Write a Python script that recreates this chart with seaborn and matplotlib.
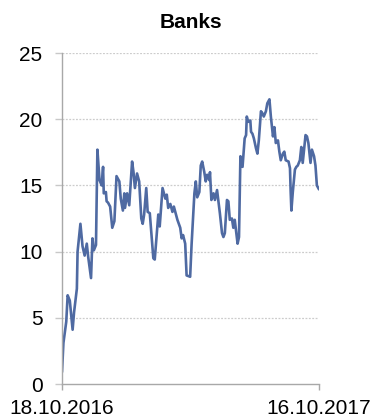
import numpy as np
import pandas as pd
import matplotlib
matplotlib.use("Agg")
import matplotlib.pyplot as plt
import matplotlib.dates as mdates
import seaborn as sns

title = "Banks"
start_date = "2016-10-18"
end_date = "2017-10-16"
day_offsets = [0, 2, 6, 8, 11, 15, 17, 21, 22, 26, 29, 32, 35, 37, 41, 43, 45, 48, 50, 53,
               56, 58, 59, 62, 63, 65, 68, 71, 74, 77, 81, 83, 86, 88, 89, 92, 95, 99, 101, 103,
               106, 109, 112, 114, 116, 119, 121, 124, 127, 129, 131, 134, 136, 138, 142, 146, 148, 150, 153, 156,
               158, 161, 163, 167, 169, 171, 174, 176, 181, 183, 187, 189, 191, 194, 196, 198, 201, 203, 205, 208,
               209, 211, 214, 216, 219, 221, 223, 226, 228, 230, 233, 235, 237, 240, 242, 244, 248, 250, 252, 255,
               258, 260, 261, 263, 266, 267, 269, 271, 274, 276, 278, 281, 283, 285, 288, 290, 293, 295, 298, 300,
               302, 305, 307, 309, 312, 314, 316, 320, 322, 323, 324, 326, 329, 331, 333, 336, 338, 340, 344, 346,
               348, 351, 353, 356, 358, 360, 363]
values = [0.9, 3.1, 4.7, 6.7, 6.3, 4.1, 5.4, 7.2, 10.0, 12.1, 10.4, 9.7, 10.6, 9.6, 8.0, 11.0, 10.1, 10.5, 17.7, 15.4,
          15.0, 16.4, 14.4, 14.5, 13.8, 13.7, 13.4, 11.8, 12.3, 15.7, 15.3, 14.0, 13.1, 14.4, 13.3, 14.4, 13.5, 16.8, 16.0, 14.8,
          15.9, 15.3, 12.5, 12.1, 12.8, 14.8, 13.0, 12.9, 10.9, 9.5, 9.4, 11.4, 12.8, 11.9, 14.8, 14.0, 14.3, 13.3, 13.6, 13.0,
          13.4, 12.8, 12.4, 11.8, 11.0, 11.25, 10.6, 8.2, 8.1, 10.5, 14.4, 15.3, 14.1, 14.5, 16.5, 16.8, 16.0, 15.3, 15.8, 15.4,
          16.0, 13.9, 14.4, 13.9, 14.65, 13.8, 12.9, 11.4, 11.1, 11.4, 13.9, 13.8, 12.4, 12.5, 11.8, 12.4, 10.6, 11.1, 17.2, 16.4,
          18.55, 18.8, 20.2, 19.8, 19.9, 19.05, 18.9, 18.55, 17.8, 17.4, 18.4, 20.6, 20.45, 20.2, 20.6, 21.2, 21.5, 20.2, 18.7, 19.4,
          18.2, 18.4, 17.55, 16.9, 17.4, 17.55, 16.9, 16.8, 16.3, 14.5, 13.1, 14.5, 16.2, 16.4, 16.5, 16.9, 17.9, 16.7, 18.8, 18.7,
          18.2, 16.7, 17.7, 17.2, 16.5, 15.0, 14.7]
y_ticks = [0, 5, 10, 15, 20, 25]

dates = pd.Timestamp(start_date) + pd.to_timedelta(day_offsets, unit="D")
df = pd.DataFrame({"date": dates, "value": values})

sns.set_style("white")
plt.rcParams["font.family"] = ["Liberation Sans", "DejaVu Sans"]
plt.rcParams["text.color"] = "black"
plt.rcParams["xtick.labelcolor"] = "black"
plt.rcParams["ytick.labelcolor"] = "black"

fig = plt.figure(figsize=(3.75, 4.19), dpi=100)
ax = fig.add_axes([62 / 375, 1 - 384 / 419, 257 / 375, 331 / 419])

sns.lineplot(data=df, x="date", y="value", ax=ax, color="#4f6aa2", linewidth=1.9)

ax.set_ylim(0, 25)
ax.set_xlim(pd.Timestamp(start_date), pd.Timestamp(end_date))
ax.set_yticks(y_ticks)
ax.set_yticklabels([str(t) for t in y_ticks], fontsize=15, color="black")
xt = [pd.Timestamp(start_date), pd.Timestamp(end_date)]
ax.set_xticks(xt)
ax.set_xticklabels([d.strftime("%d.%m.%Y") for d in xt], fontsize=15, color="black")
ax.set_xlabel("")
ax.set_ylabel("")

for y in y_ticks[1:]:
    ax.axhline(y, color="#cccccc", linewidth=0.9, linestyle=(0, (1.5, 1.2)), zorder=0)

for s in ["top", "right"]:
    ax.spines[s].set_visible(False)
for s in ["left", "bottom"]:
    ax.spines[s].set_visible(True)
    ax.spines[s].set_color("#a8a8a8")
    ax.spines[s].set_linewidth(1.0)

ax.tick_params(axis="y", length=5, width=1, color="#c8c8c8", pad=9, left=True)
ax.tick_params(axis="x", length=4.5, width=1, color="#a8a8a8", pad=6, bottom=True)

ax.set_title(title, fontsize=15, fontweight="bold", pad=18, color="black")

fig.savefig("out.png", dpi=100)
